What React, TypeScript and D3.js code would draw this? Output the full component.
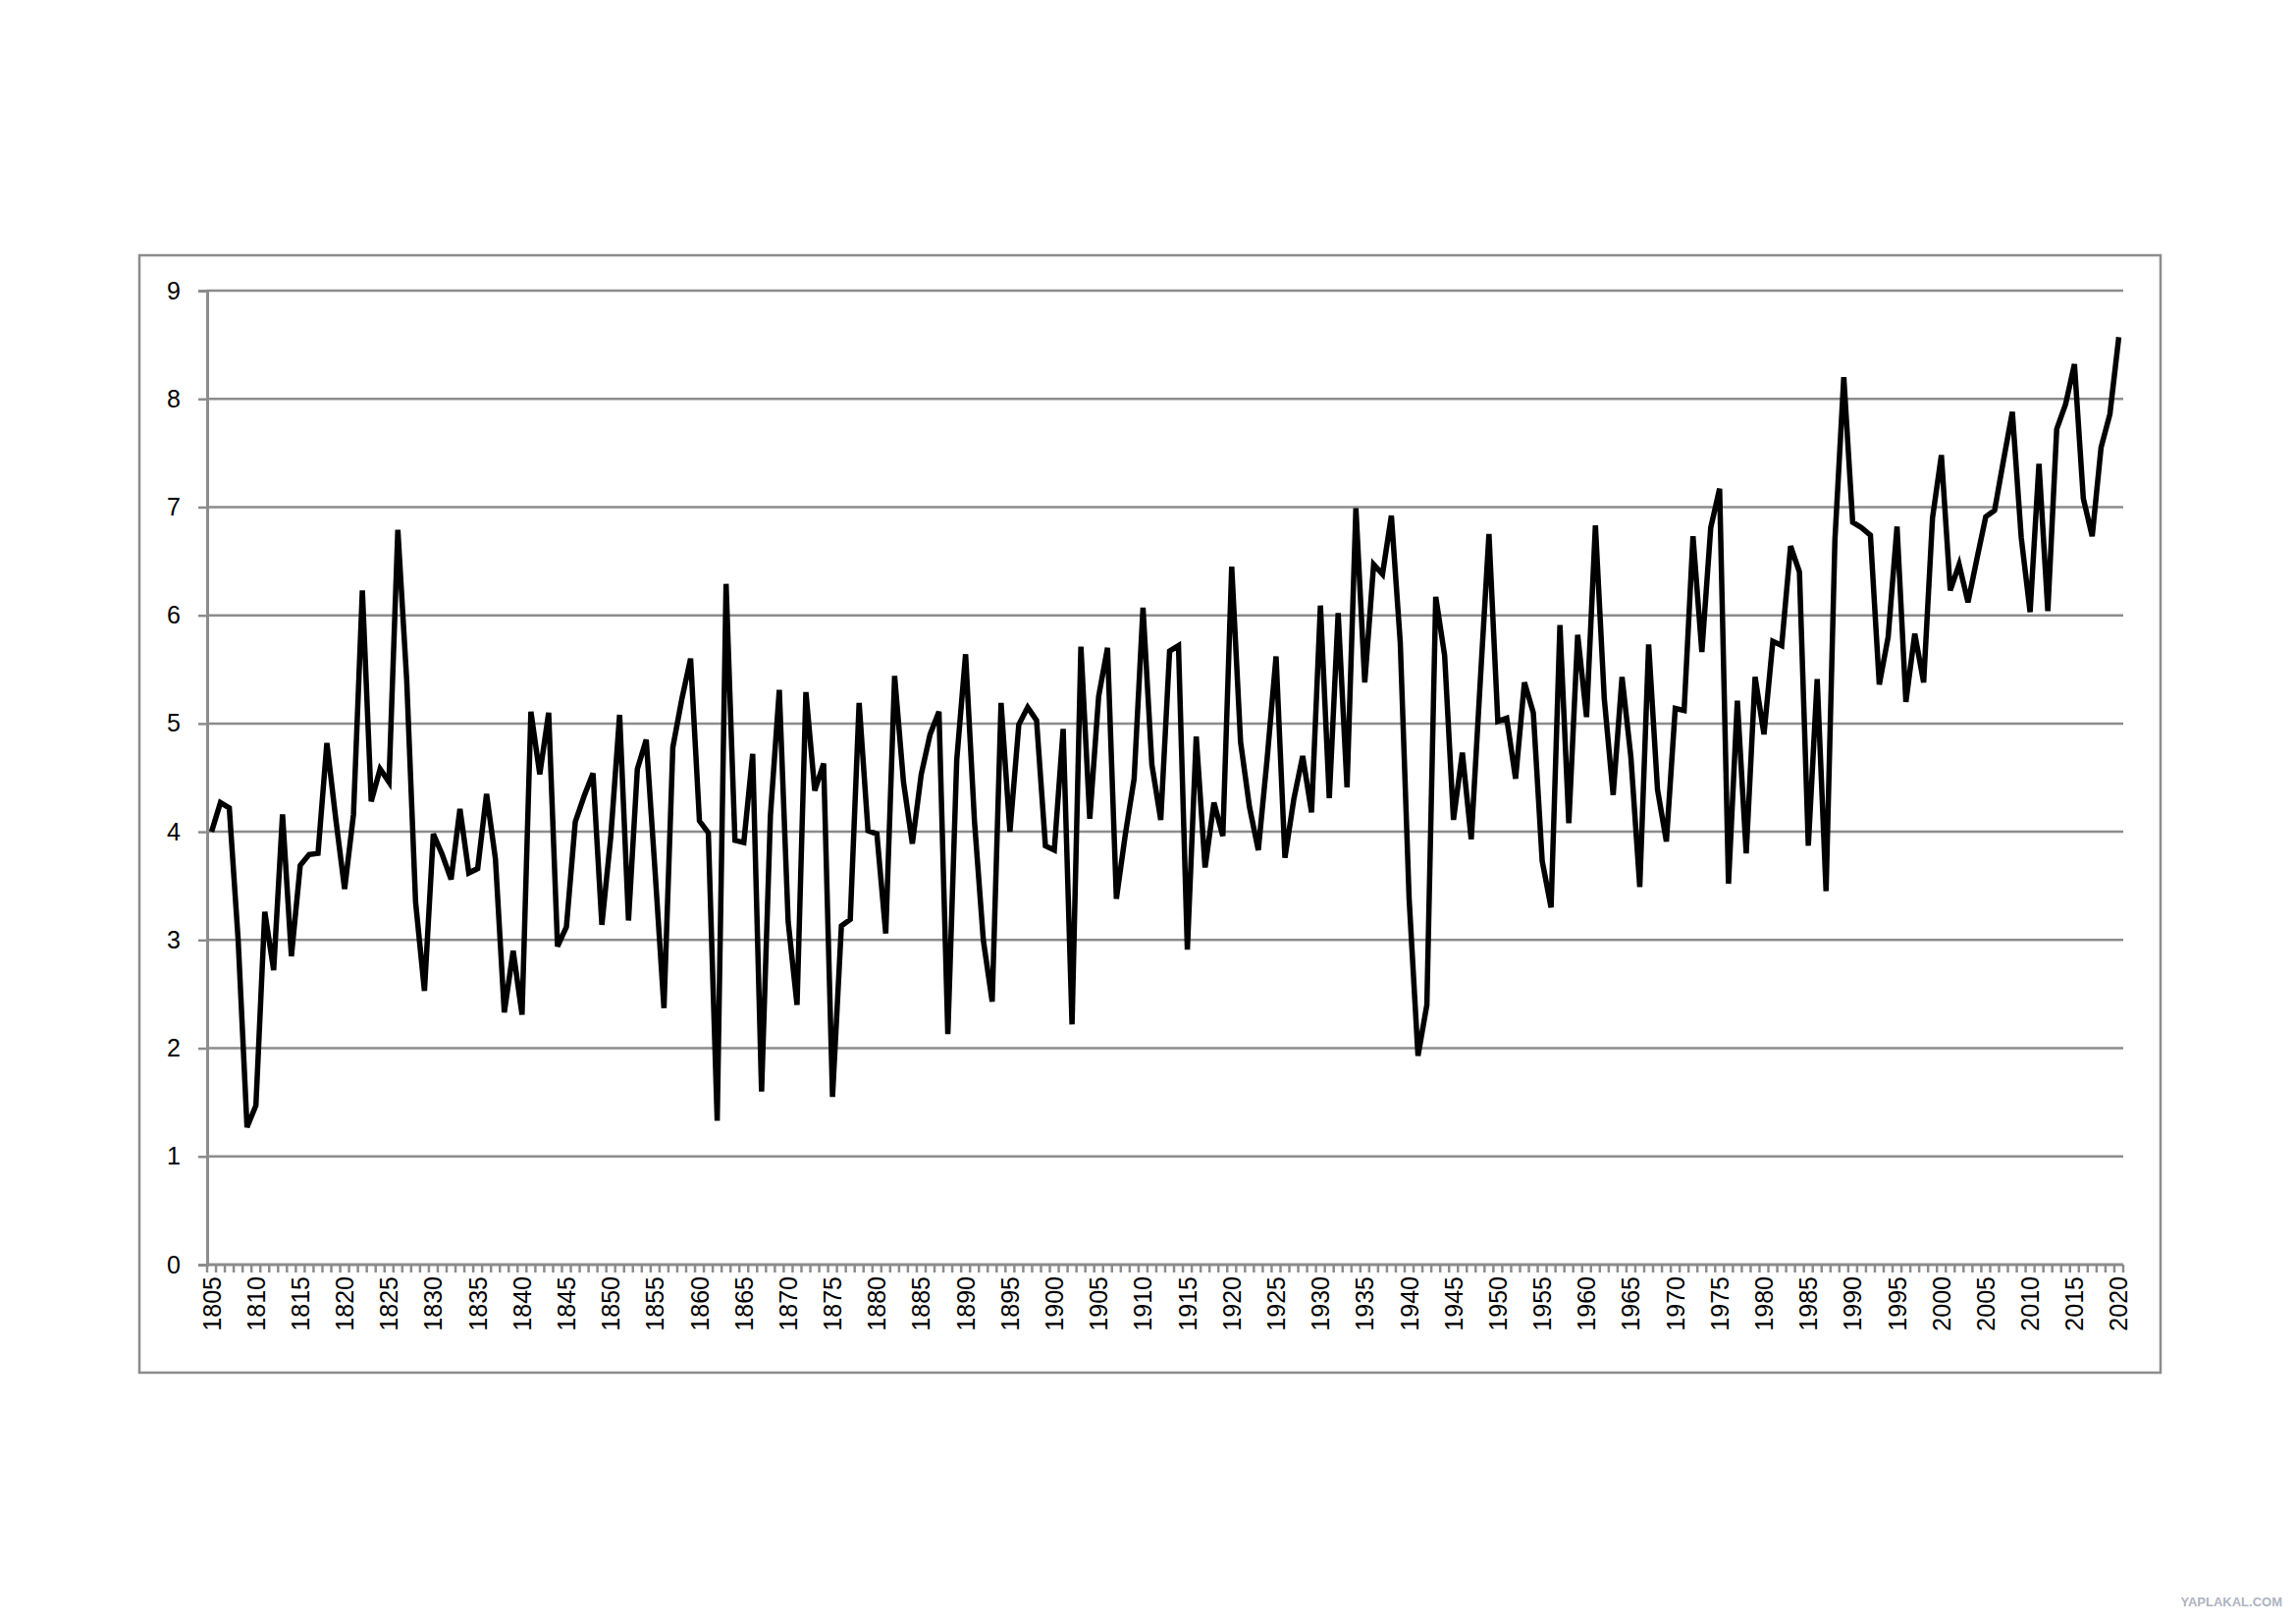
import * as d3 from 'd3';
import React, { useEffect, useRef } from 'react';

const firstYear = 1805;
const lastYear = 2020;

// annual mean values, 1805..2020
const values: number[] = [
  4.0, 4.27, 4.22, 3.0, 1.27, 1.47, 3.26, 2.72, 4.16, 2.85,
  3.69, 3.79, 3.8, 4.82, 4.12, 3.47, 4.16, 6.23, 4.28, 4.58,
  4.46, 6.79, 5.4, 3.35, 2.53, 3.98, 3.79, 3.56, 4.21, 3.62,
  3.66, 4.35, 3.75, 2.33, 2.9, 2.31, 5.11, 4.53, 5.1, 2.94,
  3.12, 4.09, 4.33, 4.54, 3.14, 3.95, 5.08, 3.18, 4.58, 4.85,
  3.63, 2.37, 4.78, 5.22, 5.6, 4.1, 3.99, 1.33, 6.29, 3.92,
  3.9, 4.72, 1.6, 4.15, 5.31, 3.17, 2.4, 5.29, 4.38, 4.63,
  1.55, 3.13, 3.19, 5.19, 4.01, 3.98, 3.06, 5.44, 4.46, 3.89,
  4.53, 4.9, 5.11, 2.13, 4.66, 5.64, 4.1, 3.0, 2.43, 5.19,
  4.0, 4.99, 5.15, 5.03, 3.87, 3.83, 4.95, 2.22, 5.71, 4.12,
  5.25, 5.7, 3.38, 3.97, 4.49, 6.07, 4.62, 4.11, 5.67, 5.72,
  2.91, 4.88, 3.67, 4.27, 3.96, 6.45, 4.83, 4.23, 3.83, 4.68,
  5.62, 3.76, 4.3, 4.7, 4.18, 6.09, 4.31, 6.02, 4.41, 6.99,
  5.38, 6.47, 6.38, 6.92, 5.75, 3.38, 1.93, 2.4, 6.17, 5.63,
  4.11, 4.73, 3.93, 5.36, 6.75, 5.02, 5.05, 4.49, 5.38, 5.1,
  3.73, 3.3, 5.91, 4.08, 5.82, 5.06, 6.83, 5.23, 4.34, 5.43,
  4.69, 3.49, 5.73, 4.39, 3.91, 5.14, 5.12, 6.73, 5.66, 6.81,
  7.17, 3.52, 5.21, 3.8, 5.43, 4.9, 5.76, 5.72, 6.64, 6.4,
  3.87, 5.41, 3.45, 6.7, 8.2, 6.86, 6.81, 6.74, 5.36, 5.8,
  6.82, 5.2, 5.83, 5.38, 6.9, 7.48, 6.23, 6.47, 6.12, 6.52,
  6.91, 6.97, 7.43, 7.88, 6.72, 6.03, 7.4, 6.04, 7.72, 7.95,
  8.32, 7.08, 6.73, 7.55, 7.86, 8.57,
];

const yTicks = [0, 1, 2, 3, 4, 5, 6, 7, 8, 9];
const labelStep = 5;

const App: React.FC = () => {
  const svgRef = useRef<SVGSVGElement>(null);

  useEffect(() => {
    const W = 2339;
    const H = 1654;
    const frame = { x0: 142, y0: 260, x1: 2201, y1: 1398 };
    const plot = { left: 211, right: 2163, top: 296, bottom: 1288 };
    const grey = '#8c8c8c';
    const font = '"Liberation Sans", Arial, sans-serif';

    const svg = d3.select(svgRef.current);
    svg.selectAll('*').remove(); // clear
    svg.attr('width', W).attr('height', H);

    const years = d3.range(firstYear, lastYear + 1);
    const data = years.map((year, i) => ({ year, value: values[i] }));

    svg.append('rect').attr('width', W).attr('height', H).attr('fill', '#fff');

    // chart border
    svg
      .append('rect')
      .attr('x', frame.x0)
      .attr('y', frame.y0)
      .attr('width', frame.x1 - frame.x0)
      .attr('height', frame.y1 - frame.y0)
      .attr('fill', 'none')
      .attr('stroke', grey)
      .attr('stroke-width', 2.5);

    const band = d3
      .scaleBand<number>()
      .domain(years)
      .range([plot.left, plot.right])
      .paddingInner(0)
      .paddingOuter(0);
    const x = (yr: number) => band(yr)! + band.bandwidth() / 2;

    const y = d3.scaleLinear().domain([0, 9]).range([plot.bottom, plot.top]);

    // horizontal gridlines
    svg
      .append('g')
      .selectAll('line')
      .data(yTicks.filter((t) => t > 0))
      .enter()
      .append('line')
      .attr('x1', plot.left)
      .attr('x2', plot.right)
      .attr('y1', (d) => y(d))
      .attr('y2', (d) => y(d))
      .attr('stroke', grey)
      .attr('stroke-width', 2.5);

    // y axis
    const yAxis = svg
      .append('g')
      .attr('transform', `translate(${plot.left},0)`)
      .call(d3.axisLeft(y).tickValues(yTicks).tickSize(9).tickPadding(18).tickFormat(d3.format('d')));
    yAxis.select('.domain').attr('stroke', grey).attr('stroke-width', 3);
    yAxis.selectAll('.tick line').attr('stroke', grey).attr('stroke-width', 2.5);
    yAxis
      .selectAll('.tick text')
      .attr('font-family', font)
      .attr('font-size', 25)
      .attr('fill', '#000');

    // x axis: a tick at every category boundary
    const boundaries = d3.range(0, years.length + 1).map((i) => plot.left + i * band.bandwidth());
    const xAxis = svg.append('g');
    xAxis
      .append('line')
      .attr('x1', plot.left)
      .attr('x2', plot.right)
      .attr('y1', plot.bottom)
      .attr('y2', plot.bottom)
      .attr('stroke', grey)
      .attr('stroke-width', 3);
    xAxis
      .selectAll('.minor')
      .data(boundaries)
      .enter()
      .append('line')
      .attr('x1', (d) => d)
      .attr('x2', (d) => d)
      .attr('y1', plot.bottom)
      .attr('y2', plot.bottom + 8)
      .attr('stroke', grey)
      .attr('stroke-width', 2.5);

    xAxis
      .selectAll('.lbl')
      .data(years.filter((yr) => (yr - firstYear) % labelStep === 0))
      .enter()
      .append('text')
      .attr('transform', (d) => `translate(${x(d) + 9},${plot.bottom + 12}) rotate(-90)`)
      .attr('text-anchor', 'end')
      .attr('font-family', font)
      .attr('font-size', 25)
      .attr('fill', '#000')
      .text((d) => String(d));

    // series line
    const line = d3
      .line<{ year: number; value: number }>()
      .x((d) => x(d.year))
      .y((d) => y(d.value));

    svg
      .append('path')
      .datum(data)
      .attr('fill', 'none')
      .attr('stroke', '#000')
      .attr('stroke-width', 5.5)
      .attr('stroke-linejoin', 'miter')
      .attr('d', line);

    // watermark
    svg
      .append('text')
      .attr('x', 2325)
      .attr('y', 1636)
      .attr('text-anchor', 'end')
      .attr('font-family', font)
      .attr('font-weight', 'bold')
      .attr('font-size', 13)
      .attr('fill', '#aeb4c0')
      .text('YAPLAKAL.COM');
  }, []);

  return <svg ref={svgRef} style={{ position: 'absolute', left: 0, top: 0 }} />;
};

export default App;
